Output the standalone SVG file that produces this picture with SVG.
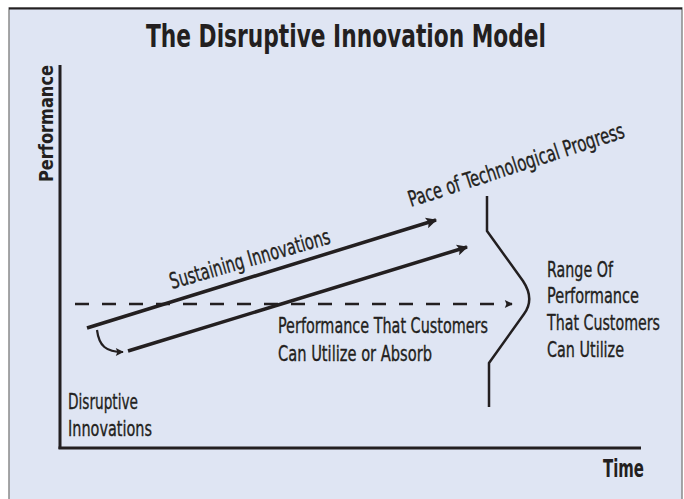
<svg xmlns="http://www.w3.org/2000/svg" width="684" height="499" viewBox="0 0 684 499">
  <defs>
    <style>
      .t { font-family: "Liberation Sans Narrow", "DejaVu Sans Condensed", "Roboto Condensed", sans-serif; font-stretch: condensed; fill: #231f20; }
      .b { font-weight: bold; }
      .lbl { font-size: 22px; stroke: #231f20; stroke-width: 0.35px; }
      .ln { fill: none; stroke: #231f20; stroke-linecap: butt; }
    </style>
    <marker id="head" viewBox="0 0 10 10" refX="9" refY="5" markerUnits="userSpaceOnUse" markerWidth="16" markerHeight="11" orient="auto">
      <path d="M0,0 L10,5 L0,10 L2,5 Z" fill="#231f20"/>
    </marker>
    <marker id="headSm" viewBox="0 0 10 10" refX="9" refY="5" markerUnits="userSpaceOnUse" markerWidth="12" markerHeight="8" orient="auto">
      <path d="M0,0 L10,5 L0,10 L2,5 Z" fill="#231f20"/>
    </marker>
  </defs>

  <rect x="0" y="0" width="684" height="499" fill="#ffffff"/>
  <!-- panel -->
  <rect x="9" y="8" width="673" height="492" fill="#dfe5f3" stroke="#8a8a8a" stroke-width="1.5"/>
  <line x1="9" y1="8.5" x2="682" y2="8.5" stroke="#231f20" stroke-width="2"/>

  <g id="title">
    <text class="t b" x="146" y="47" font-size="32" textLength="400" lengthAdjust="spacingAndGlyphs">The Disruptive Innovation Model</text>
  </g>

  <g id="axes">
    <line class="ln" x1="60" y1="65" x2="60" y2="449" stroke-width="3"/>
    <line class="ln" x1="58.5" y1="448" x2="641" y2="448" stroke-width="3"/>
    <text class="t b" transform="translate(53,182) rotate(-90)" font-size="20" textLength="117" lengthAdjust="spacingAndGlyphs">Performance</text>
    <text class="t b" x="603" y="477" font-size="24" textLength="41" lengthAdjust="spacingAndGlyphs">Time</text>
  </g>

  <g id="connectors">
    <!-- sustaining innovations trajectory -->
    <line class="ln" x1="87" y1="328" x2="436" y2="220" stroke-width="3.5" marker-end="url(#head)"/>
    <!-- disruptive innovations trajectory -->
    <line class="ln" x1="128" y1="351" x2="467" y2="247" stroke-width="3.5" marker-end="url(#head)"/>
    <!-- hop from sustaining to disruptive -->
    <path class="ln" d="M97,330 C99,346 106,352 123,352" stroke-width="2.2" marker-end="url(#headSm)"/>
    <!-- customer-demand level -->
    <line class="ln" x1="75" y1="304" x2="512" y2="304" stroke-width="2.5" stroke-dasharray="14 13" marker-end="url(#headSm)"/>
    <!-- range of performance curve -->
    <path class="ln" d="M487,196 L487,231 L523,281 Q535,299 524,314 L489,363 L489,407" stroke-width="2.5" stroke-linejoin="round"/>
  </g>

  <g id="sustaining">
    <text class="t lbl" transform="translate(172,289) rotate(-16)" textLength="166" lengthAdjust="spacingAndGlyphs">Sustaining Innovations</text>
  </g>

  <g id="pace">
    <text class="t lbl" transform="translate(411,207) rotate(-18)" textLength="226" lengthAdjust="spacingAndGlyphs">Pace of Technological Progress</text>
  </g>

  <g id="absorb">
    <text class="t lbl" x="278" y="333" textLength="210" lengthAdjust="spacingAndGlyphs">Performance That Customers</text>
    <text class="t lbl" x="278" y="361" textLength="154" lengthAdjust="spacingAndGlyphs">Can Utilize or Absorb</text>
  </g>

  <g id="range">
    <text class="t lbl" x="547" y="277" textLength="66" lengthAdjust="spacingAndGlyphs">Range Of</text>
    <text class="t lbl" x="547" y="303" textLength="92" lengthAdjust="spacingAndGlyphs">Performance</text>
    <text class="t lbl" x="547" y="330" textLength="113" lengthAdjust="spacingAndGlyphs">That Customers</text>
    <text class="t lbl" x="547" y="357" textLength="77" lengthAdjust="spacingAndGlyphs">Can Utilize</text>
  </g>

  <g id="disruptive">
    <text class="t lbl" x="68" y="409" textLength="70" lengthAdjust="spacingAndGlyphs">Disruptive</text>
    <text class="t lbl" x="68" y="436" textLength="84" lengthAdjust="spacingAndGlyphs">Innovations</text>
  </g>
</svg>
